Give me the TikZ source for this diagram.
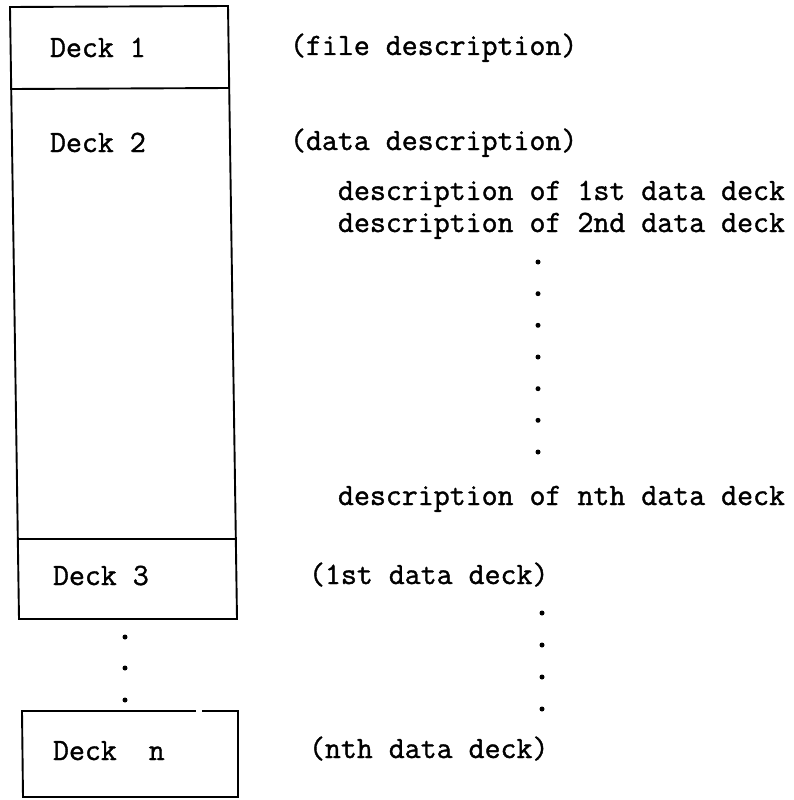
\documentclass[tikz,border=0pt]{standalone}
\usepackage{fontspec}
\newfontfamily\typew{Latin Modern Mono}[FakeBold=1.2]
\begin{document}
\begin{tikzpicture}[x=1pt,y=-1pt,
  txt/.style={anchor=base west,inner sep=0pt,outer sep=0pt,font=\typew\fontsize{31}{37}\selectfont},
  edge/.style={line width=1.9pt,line cap=rect},
  dotmark/.style={fill=black}]
\useasboundingbox (0,0) rectangle (793,800);
% outer stack of decks 1-3
\coordinate (tl) at (10,7);
\coordinate (tr) at (228,6);
\coordinate (m1l) at (11,89);
\coordinate (m1r) at (229,88);
\coordinate (m2l) at (18,539);
\coordinate (m2r) at (236,539);
\coordinate (bl) at (19,619);
\coordinate (br) at (237,619);
\draw[edge] (tl) -- (tr) -- (br) -- (bl) -- cycle;
\draw[edge] (m1l) -- (m1r);
\draw[edge] (m2l) -- (m2r);
% deck n box
\coordinate (ntl) at (22,711);
\coordinate (ngapa) at (195,711);
\coordinate (ngapb) at (203,711);
\coordinate (ntr) at (238,711);
\coordinate (nbr) at (238,797);
\coordinate (nbl) at (23,797);
\draw[edge] (ngapa) -- (ntl) -- (nbl) -- (nbr) -- (ntr) -- (ngapb);
% deck labels
\node[txt] (d1) at (50,57) {Deck 1};
\node[txt] (d2) at (50,152) {Deck 2};
\node[txt] (d3) at (53,585) {Deck 3};
\node[txt] (dn) at (53,760) {Deck\ \ n};
% descriptions
\node[txt] (fd) at (290,55) {(file description)};
\node[txt] (dd) at (290,150) {(data description)};
\node[txt] (de1) at (338,200) {description of 1st data deck};
\node[txt] (de2) at (338,232) {description of 2nd data deck};
\node[txt] (den) at (338,505) {description of nth data deck};
\node[txt] (fst) at (309,584) {(1st data deck)};
\node[txt] (nth) at (309,758) {(nth data deck)};
% dots
\foreach \yy in {262,293.7,325.3,357,388.7,420.3,452} \fill[dotmark] (538,\yy) circle (2.5);
\foreach \yy in {613,645,677,709} \fill[dotmark] (542,\yy) circle (2.5);
\foreach \yy in {637,668,700} \fill[dotmark] (125,\yy) circle (2.5);
\end{tikzpicture}
\end{document}
